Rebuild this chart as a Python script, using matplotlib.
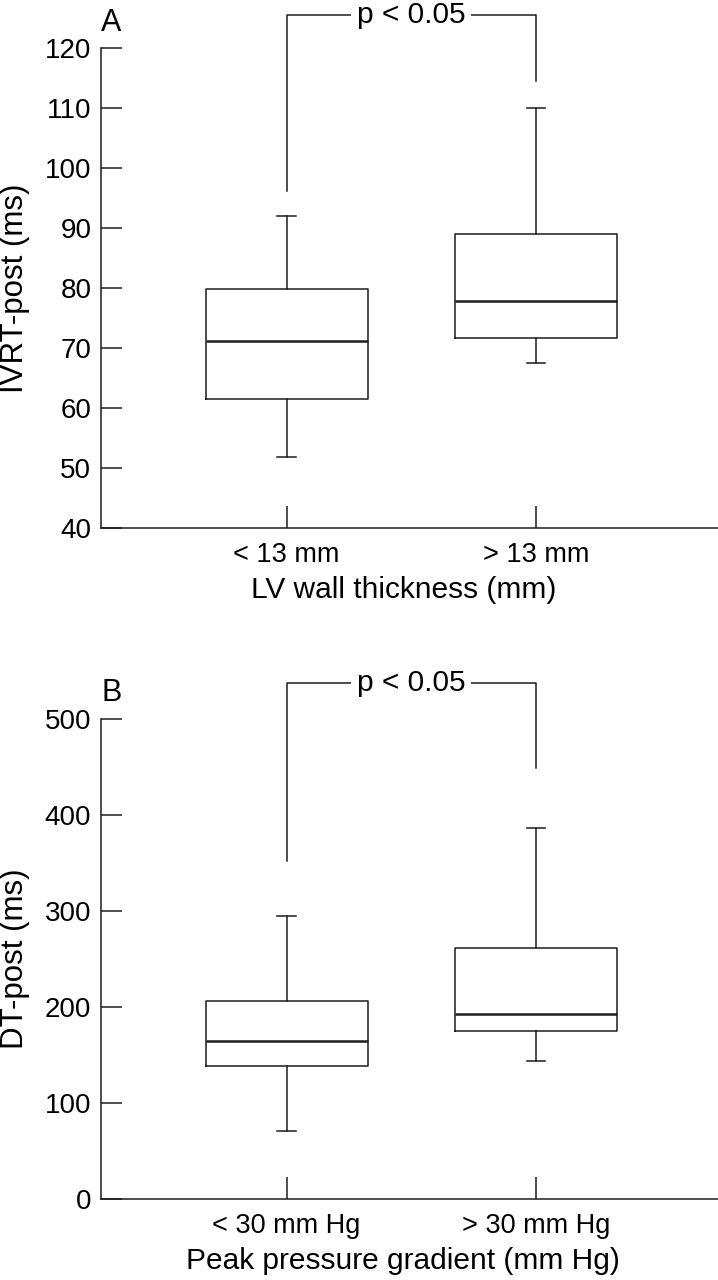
import matplotlib
matplotlib.use("Agg")
import matplotlib.pyplot as plt

plt.rcParams['font.family'] = ['Liberation Sans', 'DejaVu Sans']

# panel A: IVRT-post by LV wall thickness
a_groups = ["< 13 mm", "> 13 mm"]
a_low = [51.8, 67.5]
a_q1 = [61.5, 71.7]
a_med = [71.2, 77.8]
a_q3 = [79.8, 89]
a_high = [92, 110]

# panel B: DT-post by peak pressure gradient
b_groups = ["< 30 mm Hg", "> 30 mm Hg"]
b_low = [71, 143.5]
b_q1 = [138, 175]
b_med = [164.6, 192.4]
b_q3 = [205.6, 261]
b_high = [294.5, 386]

# significance brackets: (top, left foot, right foot)
a_bracket = [125.5, 96.2, 114.5]
b_bracket = [537, 352, 449]

INK = "#1c1c1c"


def panel(ax, groups, low, q1, med, q3, high, ylim, yticks, ylabel, xlabel,
          letter, bracket):
    stats = []
    for i in range(len(groups)):
        stats.append(dict(whislo=low[i], q1=q1[i], med=med[i], q3=q3[i],
                          whishi=high[i], fliers=[], label=groups[i]))
    ax.bxp(stats, positions=[1, 2], widths=0.65, capwidths=0.075,
           showfliers=False,
           boxprops=dict(color=INK, lw=1.1),
           whiskerprops=dict(color=INK, lw=1.1),
           capprops=dict(color=INK, lw=1.1),
           medianprops=dict(color=INK, lw=1.8))
    ax.set_xlim(0.256, 2.73)
    ax.set_ylim(*ylim)
    ax.set_yticks(yticks)
    ax.set_xticks([1, 2])
    ax.set_xticklabels(groups)
    for s in ("top", "right"):
        ax.spines[s].set_visible(False)
    for s in ("left", "bottom"):
        ax.spines[s].set_color(INK)
        ax.spines[s].set_linewidth(1.1)
    ax.tick_params(axis="y", direction="in", length=15, width=1.1,
                   color=INK, labelsize=20, pad=7)
    ax.tick_params(axis="x", direction="in", length=16, width=1.1,
                   color=INK, labelsize=19.5, pad=10)
    ax.set_ylabel(ylabel, fontsize=22.5)
    ax.yaxis.set_label_coords(-0.14, 0.5)
    ax.set_xlabel(xlabel, fontsize=21.5)
    ax.xaxis.set_label_coords(0.49, -0.13)
    ax.xaxis.label.set_va("center")
    ax.yaxis.label.set_va("center")

    top, lf, rf = bracket
    ax.plot([1, 1, 2, 2], [lf, top, top, rf], color=INK, lw=1.1,
            clip_on=False)
    ax.text(1.5, top, "p < 0.05", fontsize=21.5, ha="center", va="center",
            bbox=dict(facecolor="white", edgecolor="none", pad=4),
            clip_on=False)
    ax.text(0.0, 1.053, letter, transform=ax.transAxes, fontsize=22,
            ha="left", va="center")


fig = plt.figure(figsize=(7.18, 12.8), dpi=100)
ax1 = fig.add_axes([0.1407, 0.5875, 0.8593, 0.375])
ax2 = fig.add_axes([0.1407, 0.0635, 0.8593, 0.375])

panel(ax1, a_groups, a_low, a_q1, a_med, a_q3, a_high, (40, 120),
      range(40, 121, 10), "IVRT-post (ms)", "LV wall thickness (mm)", "A",
      a_bracket)
panel(ax2, b_groups, b_low, b_q1, b_med, b_q3, b_high, (0, 500),
      range(0, 501, 100), "DT-post (ms)", "Peak pressure gradient (mm Hg)",
      "B", b_bracket)

fig.savefig("out.png", dpi=100)
